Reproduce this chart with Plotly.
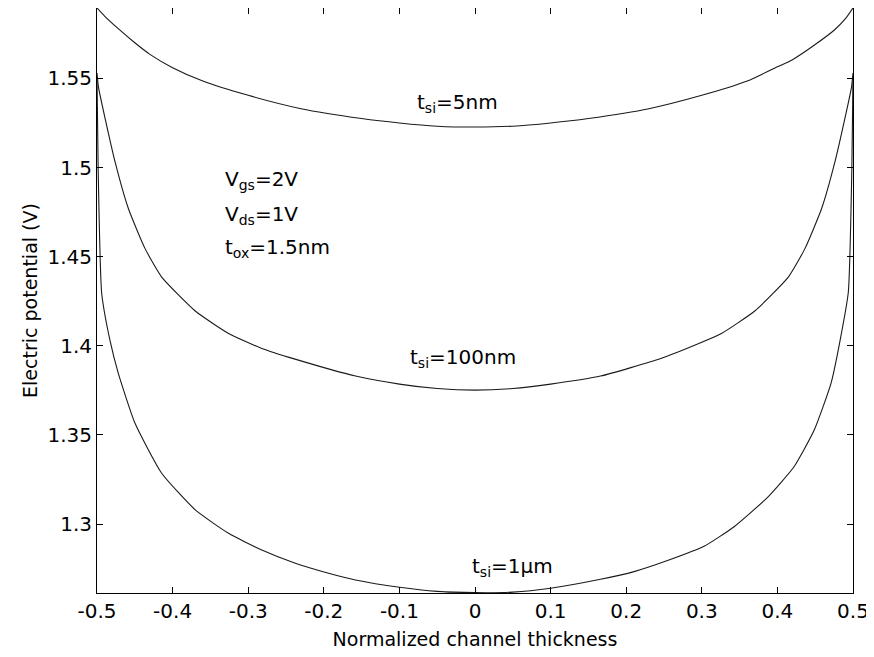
import plotly.graph_objects as go

# ---- data ----
x_5nm = [-0.5, -0.49, -0.47, -0.45, -0.43, -0.4, -0.36, -0.3, -0.23, -0.15, -0.1, -0.05, 0.0,
         0.05, 0.1, 0.15, 0.23, 0.3, 0.36, 0.4, 0.42, 0.45, 0.475, 0.49, 0.5]
v_5nm = [1.5895, 1.5850, 1.5772, 1.5700, 1.5635, 1.5560, 1.5485, 1.5405, 1.5330, 1.5275, 1.5250, 1.5232, 1.5227,
         1.5232, 1.5250, 1.5275, 1.5330, 1.5405, 1.5485, 1.5565, 1.5605, 1.5690, 1.5770, 1.5835, 1.5895]

x_100nm = [-0.5, -0.498, -0.489, -0.476, -0.4585, -0.4364, -0.4144, -0.37, -0.326, -0.282, -0.238,
           -0.158, -0.1, -0.05, 0.0, 0.05, 0.1, 0.166, 0.2457, 0.3, 0.326, 0.37, 0.4144, 0.4364, 0.4585,
           0.476, 0.489, 0.498, 0.5]
v_100nm = [1.553, 1.545, 1.527, 1.503, 1.477, 1.4545, 1.4385, 1.4195, 1.4069, 1.3985, 1.3925,
           1.3830, 1.3785, 1.3760, 1.3751, 1.3760, 1.3785, 1.3830, 1.3929, 1.4020, 1.4069, 1.4195, 1.4385,
           1.4545, 1.477, 1.503, 1.527, 1.545, 1.553]

x_1um = [-0.5, -0.4985, -0.4938, -0.4828, -0.4718, -0.4497, -0.4144, -0.37, -0.326, -0.282, -0.2377,
         -0.1937, -0.158, -0.1, -0.05, 0.0, 0.05, 0.1, 0.166, 0.2104, 0.2546, 0.303, 0.3427, 0.387,
         0.422, 0.4487, 0.4709, 0.483, 0.4938, 0.4985, 0.5]
v_1um = [1.551, 1.500, 1.4295, 1.4030, 1.3845, 1.3565, 1.3285, 1.3079, 1.2948, 1.2854, 1.2780,
         1.2724, 1.2686, 1.2645, 1.2622, 1.2615, 1.2618, 1.2640, 1.2690, 1.2733, 1.2795, 1.2875, 1.2985, 1.3150,
         1.3321, 1.3527, 1.3789, 1.4032, 1.4300, 1.500, 1.551]

x_ticks = [-0.5, -0.4, -0.3, -0.2, -0.1, 0, 0.1, 0.2, 0.3, 0.4, 0.5]
x_tick_text = ["-0.5", "-0.4", "-0.3", "-0.2", "-0.1", "0", "0.1", "0.2", "0.3", "0.4", "0.5"]
y_ticks = [1.3, 1.35, 1.4, 1.45, 1.5, 1.55]
y_tick_text = ["1.3", "1.35", "1.4", "1.45", "1.5", "1.55"]

FONT = "DejaVu Sans"
LINE = dict(color="#1a1a1a", width=1.1)

fig = go.Figure()
for xs, ys, name in [(x_5nm, v_5nm, "5nm"), (x_100nm, v_100nm, "100nm"), (x_1um, v_1um, "1um")]:
    fig.add_trace(go.Scatter(x=xs, y=ys, mode="lines", line=dict(**LINE, shape="spline", smoothing=0.5),
                             name=name, showlegend=False))

ann_font = dict(family=FONT, size=20, color="black")
annotations = [
    dict(x=-0.079, y=1.536, text="t<sub>si</sub>=5nm", xanchor="left", yanchor="middle"),
    dict(x=-0.088, y=1.3933, text="t<sub>si</sub>=100nm", xanchor="left", yanchor="middle"),
    dict(x=-0.006, y=1.2759, text="t<sub>si</sub>=1μm", xanchor="left", yanchor="middle"),
    dict(x=-0.333, y=1.4928, text="V<sub>gs</sub>=2V", xanchor="left", yanchor="middle"),
    dict(x=-0.333, y=1.4732, text="V<sub>ds</sub>=1V", xanchor="left", yanchor="middle"),
    dict(x=-0.333, y=1.4547, text="t<sub>ox</sub>=1.5nm", xanchor="left", yanchor="middle"),
]
for a in annotations:
    a.update(xref="x", yref="y", showarrow=False, font=ann_font)

axis_common = dict(showline=True, linecolor="black", linewidth=1, mirror="allticks",
                   ticks="inside", ticklen=6, tickcolor="black", showgrid=False, zeroline=False,
                   tickfont=dict(family=FONT, size=20, color="black"))

# page body adds an 8px offset; figure sized so the plot area lands where the reference has it
fig.update_layout(
    width=866, height=649,
    margin=dict(l=89, r=21, t=0, b=64),
    paper_bgcolor="white", plot_bgcolor="white",
    annotations=annotations,
    xaxis=dict(range=[-0.5, 0.5], tickvals=x_ticks, ticktext=x_tick_text,
               title=dict(text="Normalized channel thickness", font=dict(family=FONT, size=19, color="black"),
                          standoff=10),
               **axis_common),
    yaxis=dict(range=[1.2613, 1.5895], tickvals=y_ticks, ticktext=y_tick_text,
               title=dict(text="Electric potential (V)", font=dict(family=FONT, size=19, color="black"),
                          standoff=4),
               **axis_common),
)

fig.write_html("out.html")
